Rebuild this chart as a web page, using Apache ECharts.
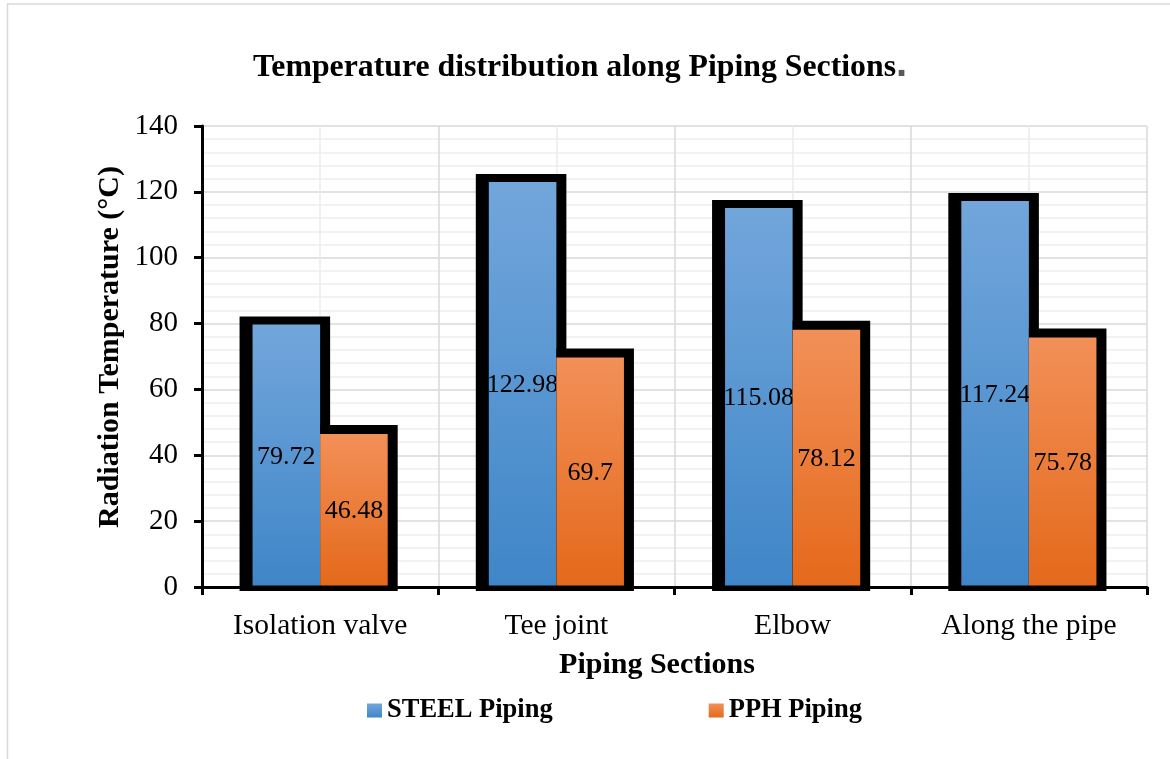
<!DOCTYPE html>
<html>
<head>
<meta charset="utf-8">
<title>Temperature distribution along Piping Sections</title>
<script src="https://cdn.jsdelivr.net/npm/echarts@6/dist/echarts.min.js"></script>
<style>
  html, body { margin: 0; padding: 0; background: #ffffff; }
  #chart { width: 1170px; height: 759px; }
</style>
</head>
<body>
<div id="chart"></div>
<script>
// Piping sections and measured radiation temperatures (°C)
const categories = ['Isolation valve', 'Tee joint', 'Elbow', 'Along the pipe'];
const steelTemps = [79.72, 122.98, 115.08, 117.24];
const pphTemps = [46.48, 69.7, 78.12, 75.78];
const seriesNames = ['STEEL Piping', 'PPH Piping'];

// Value axis range and step
const yMin = 0;
const yMax = 140;
const yStep = 20;

const SERIF = '"Liberation Serif", "Times New Roman", serif';

const steelFill = new echarts.graphic.LinearGradient(0, 0, 0, 1, [
  { offset: 0, color: '#72a6db' },
  { offset: 1, color: '#3f86c8' }
]);
const pphFill = new echarts.graphic.LinearGradient(0, 0, 0, 1, [
  { offset: 0, color: '#f29058' },
  { offset: 1, color: '#e4691b' }
]);

// Each bar is drawn with a heavy black frame around it; the STEEL bar sits
// left of the category centre, the PPH bar right of it.
function makeRenderer(side) {
  return function (params, api) {
    const cat = api.value(0);
    const v = api.value(1);
    const top = api.coord([cat, v]);
    const base = api.coord([cat, 0]);
    const band = api.size([1, 0])[0];
    const bw = band * 0.286;
    const cx = top[0];
    const x0 = side < 0 ? cx - bw : cx;
    const yTop = top[1];
    const yBase = base[1];
    const frame = side < 0
      ? { x: x0 - 13, y: yTop - 8, width: bw + 23, height: yBase - yTop + 12 }
      : { x: x0, y: yTop - 9, width: bw + 10, height: yBase - yTop + 13 };
    return {
      type: 'group',
      children: [
        { type: 'rect', shape: frame, style: { fill: '#000000' } },
        {
          type: 'rect',
          shape: { x: x0, y: yTop, width: bw, height: yBase - yTop - 1.5 },
          style: { fill: api.visual('color') }
        },
        {
          type: 'text',
          style: {
            text: String(v),
            x: x0 + bw / 2,
            y: (yTop + yBase) / 2 + 1,
            align: 'center',
            verticalAlign: 'middle',
            fontFamily: SERIF,
            fontSize: 26,
            fill: '#000000'
          }
        }
      ]
    };
  };
}

const chart = echarts.init(document.getElementById('chart'), null, { renderer: 'canvas' });

chart.setOption({
  backgroundColor: '#ffffff',
  animation: false,
  grid: { left: 202, right: 23, top: 126, bottom: 172, containLabel: false },
  legend: {
    data: seriesNames,
    left: 367,
    top: 697,
    padding: 0,
    icon: 'rect',
    itemWidth: 15,
    itemHeight: 14,
    itemGap: 156,
    textStyle: { fontFamily: SERIF, fontWeight: 'bold', fontSize: 26.5, color: '#000000' }
  },
  xAxis: [
    {
      type: 'category',
      data: categories,
      boundaryGap: true,
      axisLine: { show: true, lineStyle: { color: '#000000', width: 3 } },
      axisTick: { show: true, length: 8, lineStyle: { color: '#000000', width: 3 } },
      axisLabel: { fontFamily: SERIF, fontSize: 29.5, color: '#000000', margin: 24 },
      splitLine: { show: false }
    },
    {
      // vertical gridlines: category boundaries and centres
      type: 'value',
      position: 'top',
      min: 0,
      max: categories.length,
      interval: 1,
      axisLine: { show: false },
      axisTick: { show: false },
      axisLabel: { show: false },
      splitLine: { show: true, lineStyle: { color: '#d9d9d9', width: 1.5 } },
      minorTick: { show: false, splitNumber: 2 },
      minorSplitLine: { show: true, lineStyle: { color: '#ececec', width: 1.5 } }
    }
  ],
  yAxis: {
    type: 'value',
    min: yMin,
    max: yMax,
    interval: yStep,
    axisLine: { show: true, lineStyle: { color: '#000000', width: 3 } },
    axisTick: { show: true, length: 8, lineStyle: { color: '#000000', width: 3 } },
    axisLabel: { fontFamily: SERIF, fontSize: 29, color: '#000000', margin: 24 },
    splitLine: { show: true, lineStyle: { color: '#d9d9d9', width: 1.5 } },
    minorTick: { show: false, splitNumber: 5 },
    minorSplitLine: { show: true, lineStyle: { color: '#eeeeee', width: 1.5 } }
  },
  series: [
    {
      name: seriesNames[0],
      type: 'custom',
      xAxisIndex: 0,
      itemStyle: { color: steelFill },
      encode: { x: 0, y: 1 },
      data: steelTemps.map((v, i) => [i, v]),
      renderItem: makeRenderer(-1)
    },
    {
      name: seriesNames[1],
      type: 'custom',
      xAxisIndex: 0,
      itemStyle: { color: pphFill },
      encode: { x: 0, y: 1 },
      data: pphTemps.map((v, i) => [i, v]),
      renderItem: makeRenderer(1)
    }
  ],
  graphic: [
    {
      type: 'rect',
      z: -10,
      silent: true,
      shape: { x: 7.5, y: 4, width: 1200, height: 800 },
      style: { fill: 'none', stroke: '#d9d9d9', lineWidth: 1.5 }
    },
    {
      type: 'text',
      x: 253,
      y: 68,
      style: {
        text: 'Temperature distribution along Piping Sections',
        fontFamily: SERIF,
        fontWeight: 'bold',
        fontSize: 31.8,
        fill: '#000000',
        align: 'left',
        verticalAlign: 'middle'
      }
    },
    {
      type: 'text',
      x: 896,
      y: 65,
      style: {
        text: '.',
        fontFamily: '"Liberation Sans", Arial, sans-serif',
        fontWeight: 'bold',
        fontSize: 40,
        fill: '#595959',
        align: 'left',
        verticalAlign: 'middle'
      }
    },
    {
      type: 'text',
      x: 110,
      y: 347,
      rotation: Math.PI / 2,
      style: {
        text: 'Radiation Temperature (°C)',
        fontFamily: SERIF,
        fontWeight: 'bold',
        fontSize: 30,
        fill: '#000000',
        align: 'center',
        verticalAlign: 'middle'
      }
    },
    {
      type: 'text',
      x: 657,
      y: 665,
      style: {
        text: 'Piping Sections',
        fontFamily: SERIF,
        fontWeight: 'bold',
        fontSize: 30,
        fill: '#000000',
        align: 'center',
        verticalAlign: 'middle'
      }
    }
  ]
});
</script>
</body>
</html>
